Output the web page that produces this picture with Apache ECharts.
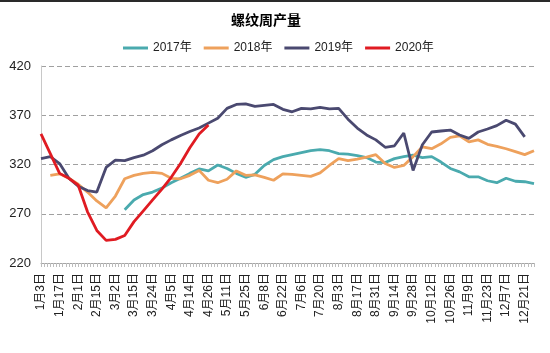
<!DOCTYPE html>
<html>
<head>
<meta charset="utf-8">
<script src="https://cdn.jsdelivr.net/npm/echarts@6/dist/echarts.min.js"></script>
<style>
html,body{margin:0;padding:0;background:#fff;}
#c{width:550px;height:353px;}
</style>
</head>
<body>
<div id="c"></div>
<script>
var categories = ['1月3日','1月10日','1月17日','1月24日','2月1日','2月8日','2月15日','2月22日','3月2日','3月9日',
  '3月15日','3月20日','3月24日','3月29日','4月5日','4月10日','4月14日','4月20日','4月26日','5月3日',
  '5月11日','5月18日','5月25日','6月1日','6月8日','6月15日','6月22日','6月29日','7月6日','7月13日',
  '7月20日','7月27日','8月3日','8月10日','8月17日','8月24日','8月31日','9月7日','9月14日','9月21日',
  '9月28日','10月5日','10月12日','10月19日','10月26日','11月2日','11月9日','11月16日','11月23日','11月30日',
  '12月7日','12月14日','12月21日','12月28日'];

var s2017 = [null,null,null,null,null,null,null,null,null,274,
  284,289.5,292,296,301.5,306,311,315.5,313.5,319.5,
  316,311,307,310,319,325,328,330,332,334,
  335,334,331,330.5,329,327,322.5,322,326,328,
  329.5,327,328,322.5,316,312.5,307.5,307.5,303.5,301.5,
  306,303,302.5,300.5];

var s2018 = [null,309,310.5,306,300,292,283,276,288,305.5,
  309,311,312,311,306,305.5,309,314,304,301.5,
  305,313.5,309,309.5,307,304,310.5,310,309,308,
  311.5,319,326,324,325.5,327.5,330,321,317,319,
  328,338,336,341,347.5,349,343,345,340.5,338.5,
  336,333,330,334];

var s2019 = [326,328,321,306,298,293.5,292,317,324.5,324,
  327,329.5,334,340,345,349.5,353.5,357,362,367,
  377,381,381.5,379,380,381,376,373.5,377,376.5,
  378,376.5,377,366,357,350,345,337.5,339,352,
  314,340,353,354,355,350,346.5,353,356,359.5,
  365,361,348,null];

var s2020 = [351,331,311,306,299,272,253,243,244,248,
  262,273,284,295,307,321,337,351,360];

var yMin = 220, yMax = 420, yStep = 50;
var seriesNames = ['2017年','2018年','2019年','2020年'];
var colors = ['#4aaaae','#eea15c','#4a4970','#e01b22'];

var chart = echarts.init(document.getElementById('c'));
var font = '"Liberation Sans","Noto Sans CJK SC",sans-serif';
function mk(name, data, color, z) {
  return {
    name: name, type: 'line', data: data, xAxisIndex: 0,
    symbol: 'none', smooth: false, connectNulls: false, z: z,
    lineStyle: {width: 2.8, color: color}, itemStyle: {color: color}
  };
}
chart.setOption({
  animation: false,
  textStyle: {fontFamily: font},
  graphic: [{
    type: 'rect', left: 0, top: 0, shape: {width: 550, height: 2},
    style: {fill: '#2a2a2a'}, silent: true
  }],
  title: {
    text: '螺纹周产量', left: 226, top: 9,
    textStyle: {fontSize: 14, fontWeight: 'bold', color: '#000', fontFamily: font}
  },
  legend: {
    data: seriesNames, top: 37, left: 118,
    icon: 'rect', itemWidth: 25, itemHeight: 3, itemGap: 12,
    textStyle: {fontSize: 12, color: '#222', fontFamily: font}
  },
  grid: {left: 41, right: 16, top: 66, bottom: 90},
  xAxis: [{
    type: 'category', data: categories, boundaryGap: false,
    axisLine: {lineStyle: {color: '#a6a6a6', width: 1}},
    axisTick: {show: false},
    axisLabel: {interval: 1, rotate: 90, fontSize: 12, color: '#222', margin: 10, fontFamily: font}
  }, {
    type: 'value', position: 'bottom', min: 0, max: categories.length - 1, interval: 1,
    axisLine: {show: false},
    axisTick: {show: true, length: 4, lineStyle: {color: '#bdbdbd'}},
    minorTick: {show: true, splitNumber: 3, length: 4, lineStyle: {color: '#bdbdbd'}},
    axisLabel: {show: false}, splitLine: {show: false}
  }],
  yAxis: {
    type: 'value', min: yMin, max: yMax, interval: yStep,
    axisLine: {show: true, lineStyle: {color: '#c8c8c8'}},
    axisTick: {show: false},
    axisLabel: {fontSize: 13, color: '#222', margin: 10, fontFamily: font},
    splitLine: {lineStyle: {type: [5, 3], color: '#a0a0a0', width: 1}}
  },
  series: [
    mk(seriesNames[0], s2017, colors[0], 2),
    mk(seriesNames[1], s2018, colors[1], 3),
    mk(seriesNames[2], s2019, colors[2], 4),
    mk(seriesNames[3], s2020, colors[3], 5)
  ]
});
</script>
</body>
</html>
